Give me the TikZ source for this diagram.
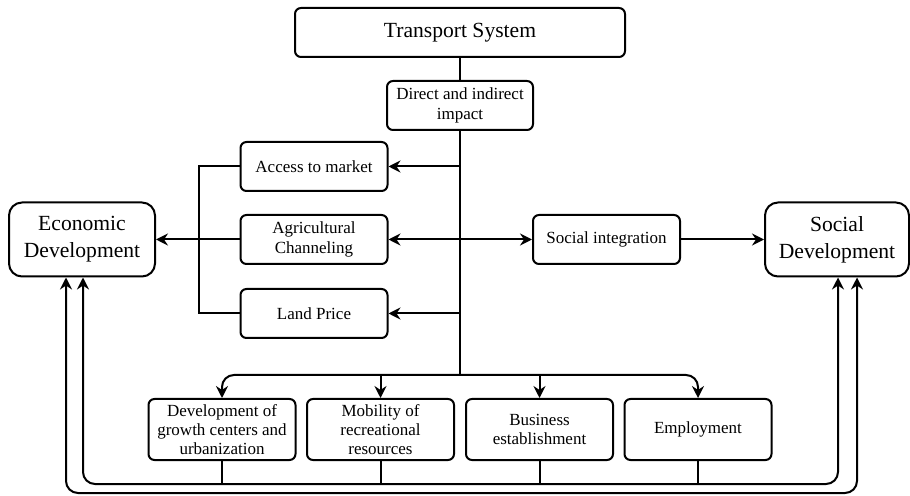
\documentclass[tikz,border=0pt]{standalone}
\usepackage{fontspec}
\setmainfont{Liberation Serif}
\usetikzlibrary{arrows.meta}

\begin{document}
\begin{tikzpicture}[x=0.5pt, y=-0.5pt, line width=1pt]
		\tikzset{bx/.style={draw, rounded corners=3pt, align=center, inner sep=1pt, minimum width=73.5pt, minimum height=24.5pt, font=\fontsize{8.5}{9.6}\selectfont}};
		\tikzset{big/.style={bx, rounded corners=6.5pt, minimum width=73pt, minimum height=37pt, font=\fontsize{10.8}{13.4}\selectfont}};
		\tikzset{arr/.style={-{Stealth[length=6pt, width=6pt, inset=2pt]}}};
		\tikzset{arr2/.style={{Stealth[length=6pt, width=6pt, inset=2pt]}-{Stealth[length=6pt, width=6pt, inset=2pt]}}};

		\useasboundingbox (0,0) rectangle (910,496);

		\node[bx, minimum width=165pt, font=\fontsize{10.8}{13}\selectfont] (ts) at (460,32.5) {Transport System};
		\node[bx, minimum width=73pt] (dii) at (460,105.5) {Direct and indirect\\impact};
		\node[bx] (am) at (314,166.5) {Access to market};
		\node[bx] (ac) at (314,239.5) {Agricultural\\Channeling};
		\node[bx] (lp) at (314,313.5) {Land Price};
		\node[bx] (si) at (606.5,239.5) {Social integration};
		\node[big] (ed) at (82,239.5) {Economic\\Development};
		\node[big, minimum width=72pt] (sd) at (837,239.5) {Social\\Development};
		\node[bx, minimum height=30.5pt] (b1) at (222,429.5) {Development of\\growth centers and\\urbanization};
		\node[bx, minimum height=30.5pt] (b2) at (380.5,429.5) {Mobility of\\recreational\\resources};
		\node[bx, minimum height=30.5pt] (b3) at (539.5,429.5) {Business\\establishment};
		\node[bx, minimum height=30.5pt] (b4) at (698,429.5) {Employment};

		\coordinate (bus) at (460,375);
		\coordinate (il) at (83,484);
		\coordinate (ir) at (838,484);
		\coordinate (ol) at (66,493);
		\coordinate (or) at (857,493);

		\draw (ts) to (dii);
		\draw (dii) to (bus);

		\draw[arr] (dii.south |- am) to (am);
		\draw[arr] (dii.south |- lp) to (lp);
		\draw (am.west) -- ++(-41,0) |- (lp.west);

		\draw[arr] (ac) to (ed);
		\draw[arr2] (ac) to (si);
		\draw[arr] (si) to (sd);

		\draw[arr, rounded corners=6pt] (bus) -| (b1.north);
		\draw[arr, rounded corners=6pt] (bus) -| (b4.north);
		\draw[arr] (b2.north |- bus) to (b2.north);
		\draw[arr] (b3.north |- bus) to (b3.north);

		\draw (b1.south) to (b1.south |- il);
		\draw (b2.south) to (b2.south |- il);
		\draw (b3.south) to (b3.south |- il);
		\draw (b4.south) to (b4.south |- il);

		\draw[arr2, rounded corners=6pt] (ed.south -| il) -- (il) -- (ir) -- (sd.south -| ir);
		\draw[arr2, rounded corners=6pt] (ed.south -| ol) -- (ol) -- (or) -- (sd.south -| or);
	\end{tikzpicture}
\end{document}
